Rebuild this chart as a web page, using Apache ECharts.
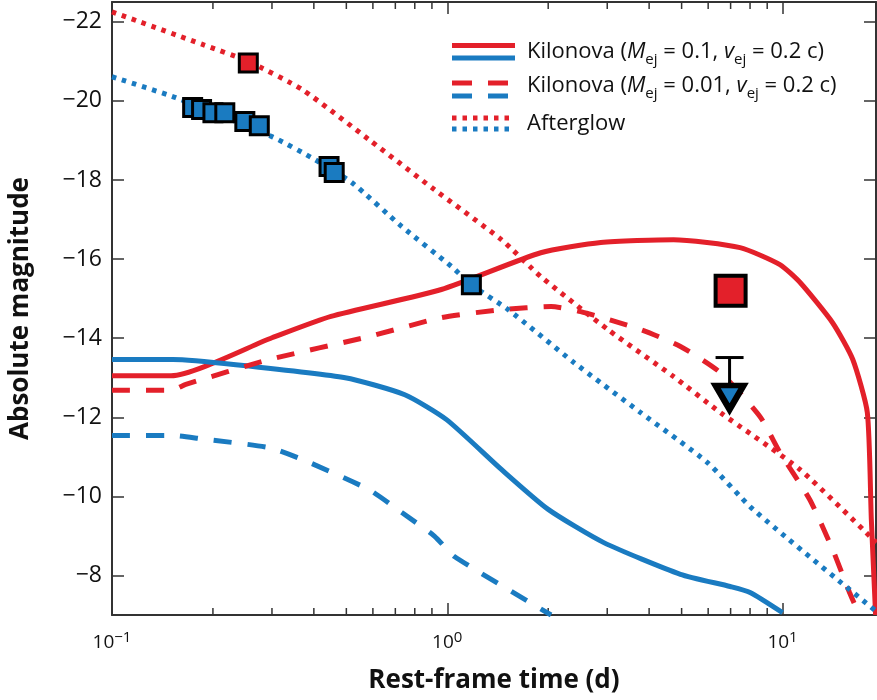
<!DOCTYPE html>
<html>
<head>
<meta charset="utf-8">
<script src="https://cdn.jsdelivr.net/npm/echarts@6/dist/echarts.min.js"></script>
<style>
  html, body { margin: 0; padding: 0; background: #fff; }
  #chart { width: 877px; height: 700px; }
</style>
</head>
<body>
<div id="chart"></div>
<script>
// [rest-frame time (d), absolute magnitude]
const kilonova01Red = [[0.1, -13.05], [0.15, -13.05], [0.30, -14.01], [0.45, -14.55], [0.96, -15.23], [1.9, -16.16], [2.87, -16.42], [4.73, -16.49], [7.47, -16.29], [9.82, -15.86], [11.3, -15.4], [14.1, -14.39], [16.2, -13.46], [17.9, -12.12], [18.4, -9.42], [18.95, -7.0]]
const kilonova01Blue = [[0.1, -13.46], [0.152, -13.46], [0.234, -13.33], [0.496, -13.0], [0.747, -12.57], [0.995, -11.94], [1.45, -10.68], [2.0, -9.67], [2.93, -8.83], [4.96, -8.03], [6.98, -7.72], [8.0, -7.57], [10.0, -7.06]]
const kilonova001Red = [[0.1, -12.68], [0.15, -12.68], [0.166, -12.83], [0.295, -13.46], [0.584, -14.04], [0.962, -14.52], [1.45, -14.72], [2.04, -14.8], [2.5, -14.67], [3.77, -14.22], [4.96, -13.79], [6.52, -13.13], [8.56, -12.02], [9.82, -11.11], [12.05, -9.92], [14.1, -8.66], [15.84, -7.57], [16.96, -7.0]]
const kilonova001Blue = [[0.1, -11.54], [0.152, -11.54], [0.183, -11.46], [0.295, -11.23], [0.37, -10.93], [0.584, -10.17], [0.732, -9.59], [0.917, -8.99], [1.05, -8.48], [2.04, -7.0]]
const afterglowRed = [[0.1, -22.25], [0.187, -21.42], [0.256, -20.99], [0.37, -20.28], [0.584, -19.02], [0.917, -17.75], [1.45, -16.49], [1.9, -15.56], [3.01, -14.22], [4.73, -13.03], [6.52, -12.12], [11.26, -10.68], [19.05, -8.83]]
const afterglowBlue = [[0.1, -20.61], [0.155, -20.08], [0.301, -19.09], [0.404, -18.51], [0.52, -17.93], [0.732, -16.82], [1.03, -15.81], [1.18, -15.35], [1.52, -14.72], [2.39, -13.38], [3.77, -12.12], [5.96, -10.86], [8.17, -9.67], [19.05, -7.09]]

const obsBlue = [[0.174, -19.83], [0.185, -19.78], [0.2, -19.7], [0.217, -19.7], [0.249, -19.48], [0.275, -19.37], [0.444, -18.34], [0.46, -18.19], [1.18, -15.35]]
const obsRedSmall = [[0.255, -20.96]]
const obsRedBig = [[7.0, -15.2]]
// [time, magnitude, upper-limit cap]
const limitBlue = [[6.95, -12.5, -13.51]]

const yTicks = [-22, -20, -18, -16, -14, -12, -10, -8]
const xMinorTicks = [0.2, 0.3, 0.4, 0.5, 0.6, 0.7, 0.8, 0.9, 2, 3, 4, 5, 6, 7, 8, 9]

const RED = '#e3202a'
const BLUE = '#1a7bc1'
const AXIS = '#333'
const FONT = 'Open Sans'

const chart = echarts.init(document.getElementById('chart'))

const lineSeries = (data, color, type) => ({
    type: 'line',
    data: data,
    showSymbol: false,
    smooth: 0.2,
    lineStyle: { color: color, width: 5, type: type, cap: 'butt' },
    z: 2,
})

const legendText = (mej) => 'Kilonova ({i|M}{sub|ej} = ' + mej + ', {i|v}{sub|ej} = 0.2 c)'
const legendRich = {
    i: { fontFamily: FONT, fontSize: 22, fontStyle: 'italic', color: '#111' },
    sub: { fontFamily: FONT, fontSize: 15, color: '#111', verticalAlign: 'bottom', lineHeight: 16 },
}

chart.setOption({
    animation: false,
    backgroundColor: '#fff',
    grid: { left: 109, right: 1, top: 2, bottom: 85 },
    xAxis: [{
        type: 'log',
        logBase: 10,
        min: 0.1,
        max: 19,
        position: 'bottom',
        name: 'Rest-frame time (d)',
        nameLocation: 'middle',
        nameGap: 53,
        nameTextStyle: { fontFamily: FONT, fontSize: 26, fontWeight: 'bold', color: '#111' },
        axisLine: { lineStyle: { color: AXIS, width: 2 } },
        axisTick: { inside: true, length: 12, lineStyle: { color: AXIS, width: 1.5 } },
        axisLabel: {
            margin: 15,
            showMaxLabel: false,
            fontFamily: FONT,
            fontSize: 19,
            color: '#111',
            lineHeight: 26,
            formatter: (v) => {
                const e = Math.round(Math.log10(v))
                return '10{sup|' + (e < 0 ? '\u2212' + (-e) : e) + '}'
            },
            rich: { sup: { fontFamily: FONT, fontSize: 15, color: '#111', verticalAlign: 'top', lineHeight: 14 } },
        },
        splitLine: { show: false },
    }, {
        type: 'log',
        logBase: 10,
        min: 0.1,
        max: 19,
        position: 'top',
        axisLine: { lineStyle: { color: AXIS, width: 2 } },
        axisTick: { inside: true, length: 12, lineStyle: { color: AXIS, width: 1.5 } },
        axisLabel: { show: false },
        splitLine: { show: false },
    }],
    yAxis: [{
        type: 'value',
        inverse: true,
        min: -22.5,
        max: -7,
        position: 'left',
        name: 'Absolute magnitude',
        nameLocation: 'middle',
        nameGap: 78,
        nameTextStyle: { fontFamily: FONT, fontSize: 26, fontWeight: 'bold', color: '#111' },
        axisLine: { show: true, lineStyle: { color: AXIS, width: 2 } },
        axisTick: { show: true, inside: true, length: 12, customValues: yTicks, lineStyle: { color: AXIS, width: 1.5 } },
        axisLabel: {
            customValues: yTicks,
            margin: 10,
            fontFamily: FONT,
            fontSize: 23,
            color: '#111',
            formatter: (v) => '\u2212' + Math.abs(v),
        },
        splitLine: { show: false },
    }, {
        type: 'value',
        inverse: true,
        min: -22.5,
        max: -7,
        position: 'right',
        axisLine: { show: true, lineStyle: { color: AXIS, width: 2 } },
        axisTick: { show: true, inside: true, length: 12, customValues: yTicks, lineStyle: { color: AXIS, width: 1.5 } },
        axisLabel: { show: false },
        splitLine: { show: false },
    }],
    graphic: [
        { type: 'line', shape: { x1: 452, y1: 45.5, x2: 515, y2: 45.5 }, style: { stroke: RED, lineWidth: 5 } },
        { type: 'line', shape: { x1: 452, y1: 58, x2: 515, y2: 58 }, style: { stroke: BLUE, lineWidth: 5 } },
        { type: 'line', shape: { x1: 452, y1: 83, x2: 508, y2: 83 }, style: { stroke: RED, lineWidth: 5, lineDash: [20, 16] } },
        { type: 'line', shape: { x1: 452, y1: 96, x2: 508, y2: 96 }, style: { stroke: BLUE, lineWidth: 5, lineDash: [20, 16] } },
        { type: 'line', shape: { x1: 452, y1: 118, x2: 512, y2: 118 }, style: { stroke: RED, lineWidth: 5, lineDash: [4.5, 6] } },
        { type: 'line', shape: { x1: 452, y1: 129, x2: 512, y2: 129 }, style: { stroke: BLUE, lineWidth: 5, lineDash: [4.5, 6] } },
        { type: 'text', left: 527, top: 37, style: { text: legendText('0.1'), rich: legendRich, font: '22px "Open Sans"', fill: '#111', lineHeight: 30 } },
        { type: 'text', left: 527, top: 71, style: { text: legendText('0.01'), rich: legendRich, font: '22px "Open Sans"', fill: '#111', lineHeight: 30 } },
        { type: 'text', left: 527, top: 109, style: { text: 'Afterglow', font: '22px "Open Sans"', fill: '#111', lineHeight: 30 } },
    ],
    series: [
        lineSeries(kilonova01Red, RED, 'solid'),
        lineSeries(kilonova01Blue, BLUE, 'solid'),
        lineSeries(kilonova001Red, RED, [18, 16]),
        lineSeries(kilonova001Blue, BLUE, [18, 16]),
        lineSeries(afterglowRed, RED, [4.5, 6]),
        lineSeries(afterglowBlue, BLUE, [4.5, 6]),
        {
            // minor ticks of the log axis, bottom and top
            type: 'custom',
            data: xMinorTicks.map(v => [v, -15]),
            silent: true,
            renderItem: (params, api) => {
                const x = api.coord([api.value(0), api.value(1)])[0]
                const cs = params.coordSys
                const style = { stroke: AXIS, lineWidth: 1.5 }
                return {
                    type: 'group',
                    children: [
                        { type: 'line', shape: { x1: x, y1: cs.y + cs.height, x2: x, y2: cs.y + cs.height - 7 }, style: style },
                        { type: 'line', shape: { x1: x, y1: cs.y, x2: x, y2: cs.y + 7 }, style: style },
                    ],
                }
            },
            z: 1,
        },
        {
            type: 'scatter',
            data: obsRedSmall,
            symbol: 'rect',
            symbolSize: 18,
            itemStyle: { color: RED, borderColor: '#000', borderWidth: 3, opacity: 1 },
            z: 5,
        },
        {
            type: 'scatter',
            data: obsBlue,
            symbol: 'rect',
            symbolSize: 18,
            itemStyle: { color: BLUE, borderColor: '#000', borderWidth: 3, opacity: 1 },
            z: 5,
        },
        {
            type: 'scatter',
            data: obsRedBig,
            symbol: 'rect',
            symbolSize: 30,
            itemStyle: { color: RED, borderColor: '#000', borderWidth: 4, opacity: 1 },
            z: 5,
        },
        {
            type: 'custom',
            data: limitBlue,
            renderItem: (params, api) => {
                const p0 = api.coord([api.value(0), api.value(2)])
                const p1 = api.coord([api.value(0), api.value(1)])
                const style = { stroke: '#000', lineWidth: 3 }
                return {
                    type: 'group',
                    children: [
                        { type: 'line', shape: { x1: p0[0], y1: p0[1], x2: p1[0], y2: p1[1] }, style: style },
                        { type: 'line', shape: { x1: p0[0] - 14, y1: p0[1], x2: p0[0] + 14, y2: p0[1] }, style: style },
                    ],
                }
            },
            z: 5,
        },
        {
            type: 'scatter',
            data: limitBlue.map(d => [d[0], d[1]]),
            symbol: 'triangle',
            symbolRotate: 180,
            symbolSize: [28, 24],
            itemStyle: { color: BLUE, borderColor: '#000', borderWidth: 6, opacity: 1 },
            z: 6,
        },
    ],
})
</script>
</body>
</html>
